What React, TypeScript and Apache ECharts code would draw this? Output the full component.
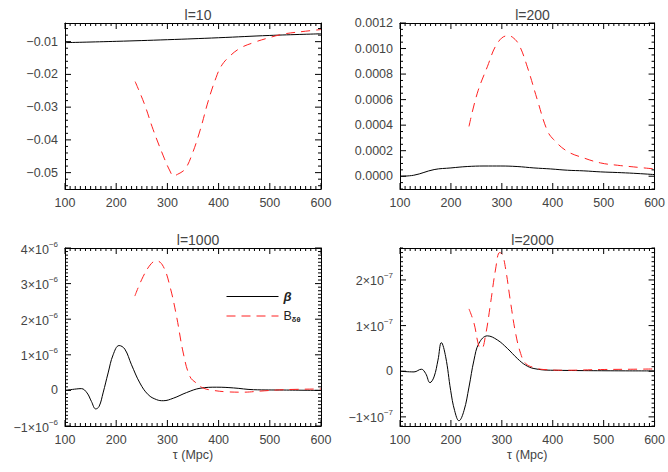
import React, { useEffect, useRef } from 'react';
import * as echarts from 'echarts';

// ---------- data ----------
const tauTicks = [100, 200, 300, 400, 500, 600];
const panelTitles = ['l=10', 'l=200', 'l=1000', 'l=2000'];
const seriesNames = ['β', 'Bδθ'];

// l = 10
const beta10Tau = [100, 200, 300, 400, 500, 600];
const beta10 = [-0.0103, -0.0099, -0.0094, -0.0088, -0.0081, -0.0076];
const bdt10Tau = [237, 255, 272, 292, 305, 312, 320, 334, 347, 364, 380, 395, 405, 420, 442, 468, 494, 526, 559, 600];
const bdt10 = [-0.0222, -0.029, -0.0368, -0.0449, -0.0495, -0.051, -0.0505, -0.049, -0.0449, -0.037, -0.028, -0.021, -0.0175, -0.0147, -0.012, -0.0103, -0.009, -0.0077, -0.007, -0.0063];

// l = 200
const beta200Tau = [100, 127, 167, 200, 232, 265, 298, 330, 363, 396, 429, 461, 494, 527, 559, 600];
const beta200 = [0, 0.0000078, 0.000052, 0.000065, 0.000076, 0.00008, 0.00008, 0.000076, 0.000065, 0.000057, 0.000047, 0.000042, 0.000034, 0.000029, 0.000023, 0.000013];
const bdt200Tau = [235.5, 251.8, 271.5, 291, 310.7, 320.5, 333.6, 350, 369.6, 389, 402, 428.5, 461, 494, 527, 559, 600];
const bdt200 = [0.00039, 0.00065, 0.000857, 0.00104, 0.0011, 0.00109, 0.00103, 0.000857, 0.0006, 0.00036, 0.000286, 0.000195, 0.000143, 0.000104, 0.000086, 0.000073, 0.000057];

// l = 1000
const beta1000Tau = [100, 122, 132, 143, 151.6, 160, 166.6, 174.4, 184.2, 194, 205.7, 216.8, 229.9, 246.2, 262.5, 278.9, 291.9, 311.5, 337.6, 363.7, 396.3, 429, 468, 526.9, 600];
const beta1000 = [0, 0.04e-6, 0.05e-6, -0.07e-6, -0.31e-6, -0.52e-6, -0.45e-6, -0.07e-6, 0.49e-6, 1.0e-6, 1.26e-6, 1.16e-6, 0.72e-6, 0.21e-6, -0.12e-6, -0.26e-6, -0.29e-6, -0.22e-6, -0.06e-6, 0.06e-6, 0.09e-6, 0.07e-6, 0.02e-6, 0.01e-6, 0];
const bdt1000Tau = [236.4, 252.7, 269, 279, 292, 305, 318, 331, 344, 357, 370, 390, 416, 448.6, 481, 527, 600];
const bdt1000 = [2.65e-6, 3.2e-6, 3.57e-6, 3.64e-6, 3.48e-6, 2.92e-6, 2.07e-6, 1.05e-6, 0.39e-6, 0.2e-6, 0.065e-6, 0, -0.04e-6, -0.05e-6, -0.02e-6, 0.02e-6, 0.04e-6];

// l = 2000
const beta2000Tau = [100, 127.5, 141.9, 150.4, 158.9, 166.8, 174.6, 181.2, 189.7, 199.5, 207.3, 215.8, 225.7, 235.5, 245.3, 255.1, 271.5, 291.1, 310.7, 330.4, 346.7, 363.1, 395.8, 600];
const beta2000 = [0, -0.015e-7, 0.044e-7, -0.05e-7, -0.25e-7, -0.125e-7, 0.244e-7, 0.627e-7, 0.317e-7, -0.421e-7, -0.863e-7, -1.085e-7, -0.863e-7, -0.347e-7, 0.244e-7, 0.613e-7, 0.775e-7, 0.686e-7, 0.502e-7, 0.28e-7, 0.133e-7, 0.059e-7, 0.022e-7, 0.007e-7];
const bdt2000Tau = [235.5, 245.3, 255.1, 260.3, 268.2, 278, 287.8, 295.7, 300.9, 307.5, 317.3, 327.1, 336.9, 346.7, 363.1, 382.7, 428.5, 494, 559.4, 600];
const bdt2000 = [1.365e-7, 1.055e-7, 0.54e-7, 0.5e-7, 0.8e-7, 1.5e-7, 2.24e-7, 2.6e-7, 2.56e-7, 2.24e-7, 1.5e-7, 0.83e-7, 0.39e-7, 0.17e-7, 0.08e-7, 0.037e-7, 0.022e-7, 0.037e-7, 0.044e-7, 0.05e-7];

const yMins = [-0.055, -0.0001, -1e-6, -1.2e-7];
const yMaxs = [-0.0043, 0.0012, 4e-6, 2.7e-7];
const ySteps = [0.01, 0.0002, 1e-6, 1e-7];
const ySplits = [5, 6, 5, 4];
const yMinorSplits = [5, 4, 10, 10];
const xMinorSplit = 10;

const betaTaus = [beta10Tau, beta200Tau, beta1000Tau, beta2000Tau];
const betaVals = [beta10, beta200, beta1000, beta2000];
const bdtTaus = [bdt10Tau, bdt200Tau, bdt1000Tau, bdt2000Tau];
const bdtVals = [bdt10, bdt200, bdt1000, bdt2000];

// ---------- layout ----------
const GRIDS = [
  { left: 65, top: 23, width: 256, height: 166 },
  { left: 400, top: 23, width: 255, height: 166 },
  { left: 65, top: 248, width: 256, height: 178 },
  { left: 400, top: 248, width: 255, height: 178 },
];
const FONT = 'Liberation Sans, Helvetica, Arial, sans-serif';
const TXT = '#444';
const MAJOR_LEN = 6;
const MINOR_LEN = 3;

const zip = (a: number[], b: number[]) => a.map((x, i) => [x, b[i]]);

function yFormatter(p: number) {
  const step = ySteps[p];
  return (v: number) => {
    const k = v / step;
    if (Math.abs(k - Math.round(k)) > 1e-6) return '';
    const n = Math.round(k);
    if (p === 0) return (v < 0 ? '−' : '') + Math.abs(n * step).toFixed(2);
    if (p === 1) return (v < 0 ? '−' : '') + Math.abs(n * step).toFixed(4);
    if (n === 0) return '0';
    const exp = p === 2 ? '−6' : '−7';
    return '{m|' + (n < 0 ? '−' : '') + Math.abs(n) + '×10}{s|' + exp + '}';
  };
}

// tick positions along each axis (major + minor), as [x, y, kind, length]
function tickItems(p: number) {
  const items: number[][] = [];
  const x0 = tauTicks[0];
  const x1 = tauTicks[tauTicks.length - 1];
  const xStep = tauTicks[1] - tauTicks[0];
  const xm = xStep / xMinorSplit;
  for (let k = 0; x0 + k * xm <= x1 + 1e-9; k++) {
    const v = x0 + k * xm;
    items.push([v, yMins[p], 0, k % xMinorSplit === 0 ? MAJOR_LEN : MINOR_LEN]);
  }
  const step = ySteps[p];
  const ym = step / yMinorSplits[p];
  const kStart = Math.ceil(yMins[p] / ym - 1e-6);
  const kEnd = Math.floor(yMaxs[p] / ym + 1e-6);
  for (let k = kStart; k <= kEnd; k++) {
    const v = k * ym;
    const major = Math.abs(v / step - Math.round(v / step)) < 1e-6;
    items.push([x0, v, 1, major ? MAJOR_LEN : MINOR_LEN]);
  }
  return items;
}

export default function App() {
  const ref = useRef<HTMLDivElement>(null);
  useEffect(() => {
    if (!ref.current) return;
    const chart = echarts.init(ref.current, undefined, { renderer: 'svg' });
    const xAxes: any[] = [];
    const yAxes: any[] = [];
    const series: any[] = [];
    const titles: any[] = [];
    const axisLine = () => ({ show: true, onZero: false, lineStyle: { color: '#000', width: 1 } });
    GRIDS.forEach((g, i) => {
      titles.push({
        text: panelTitles[i],
        left: g.left + g.width / 2,
        top: g.top - 20,
        textAlign: 'center',
        textStyle: { fontFamily: FONT, fontSize: 14, fontWeight: 'normal', color: TXT },
      });
      for (const pos of ['bottom', 'top']) {
        xAxes.push({
          type: 'value', gridIndex: i, position: pos,
          min: tauTicks[0], max: tauTicks[tauTicks.length - 1], interval: 100,
          axisLine: axisLine(), axisTick: { show: false }, minorTick: { show: false },
          splitLine: { show: false },
          axisLabel: pos === 'bottom'
            ? { show: true, margin: 7, fontFamily: FONT, fontSize: 12.5, color: TXT }
            : { show: false },
          name: pos === 'bottom' && i >= 2 ? 'τ (Mpc)' : '',
          nameLocation: 'middle', nameGap: 22,
          nameTextStyle: { fontFamily: FONT, fontSize: 12.5, color: TXT },
        });
      }
      for (const pos of ['left', 'right']) {
        yAxes.push({
          type: 'value', gridIndex: i, position: pos,
          min: yMins[i], max: yMaxs[i], splitNumber: ySplits[i],
          axisLine: axisLine(), axisTick: { show: false }, minorTick: { show: false },
          splitLine: { show: false },
          axisLabel: pos === 'left' ? {
            show: true, margin: 7, fontFamily: FONT, fontSize: 12.5, color: TXT,
            formatter: yFormatter(i),
            rich: {
              m: { fontFamily: FONT, fontSize: 12.5, color: TXT, verticalAlign: 'bottom', lineHeight: 16 },
              s: { fontFamily: FONT, fontSize: 8, color: TXT, verticalAlign: 'top', lineHeight: 10 },
            },
          } : { show: false },
        });
      }
      series.push({
        name: seriesNames[0], type: 'line', xAxisIndex: 2 * i, yAxisIndex: 2 * i,
        data: zip(betaTaus[i], betaVals[i]), symbol: 'none', showSymbol: false, smooth: 0.4,
        lineStyle: { color: '#000', width: 1 }, itemStyle: { color: '#000' },
      });
      series.push({
        name: seriesNames[1], type: 'line', xAxisIndex: 2 * i, yAxisIndex: 2 * i,
        data: zip(bdtTaus[i], bdtVals[i]), symbol: 'none', showSymbol: false, smooth: 0.4,
        lineStyle: { color: '#ff2020', width: 1, type: [9, 6] }, itemStyle: { color: '#ff2020' },
      });
      // box tick marks, placed through the panel's own scales
      const xEnd = tauTicks[tauTicks.length - 1];
      series.push({
        name: 'ticks' + i, type: 'custom', xAxisIndex: 2 * i, yAxisIndex: 2 * i,
        coordinateSystem: 'cartesian2d', silent: true, z: 5, clip: false,
        data: tickItems(i),
        renderItem: (params: any, api: any) => {
          const vx = api.value(0);
          const vy = api.value(1);
          const kind = api.value(2);
          const len = api.value(3);
          const st = { stroke: '#000', lineWidth: 1 };
          if (kind === 0) {
            const b = api.coord([vx, yMins[i]]);
            const t = api.coord([vx, yMaxs[i]]);
            return {
              type: 'group',
              children: [
                { type: 'line', shape: { x1: b[0], y1: b[1], x2: b[0], y2: b[1] - len }, style: st },
                { type: 'line', shape: { x1: t[0], y1: t[1], x2: t[0], y2: t[1] + len }, style: st },
              ],
            };
          }
          const l = api.coord([tauTicks[0], vy]);
          const r = api.coord([xEnd, vy]);
          return {
            type: 'group',
            children: [
              { type: 'line', shape: { x1: l[0], y1: l[1], x2: l[0] + len, y2: l[1] }, style: st },
              { type: 'line', shape: { x1: r[0], y1: r[1], x2: r[0] - len, y2: r[1] }, style: st },
            ],
          };
        },
      });
    });
    chart.setOption({
      animation: false,
      backgroundColor: '#fff',
      title: titles,
      grid: GRIDS.map((g) => ({ ...g, containLabel: false })),
      xAxis: xAxes,
      yAxis: yAxes,
      series,
      tooltip: { show: false },
      legend: {
        data: seriesNames,
        left: 221, top: 285, orient: 'vertical',
        itemWidth: 52, itemHeight: 8, itemGap: 6,
        itemStyle: { opacity: 0 },
        lineStyle: { width: 1, inactiveWidth: 1 },
        formatter: (name: string) => (name === 'β' ? '{b|β}' : '{n|B}{s|δθ}'),
        textStyle: {
          fontFamily: FONT, color: '#222', fontSize: 12.5,
          rich: {
            b: { fontFamily: FONT, fontSize: 13, fontStyle: 'italic', fontWeight: 'bold', color: '#222' },
            n: { fontFamily: FONT, fontSize: 12.5, color: '#222', verticalAlign: 'top', lineHeight: 14 },
            s: { fontFamily: FONT, fontSize: 7.5, fontWeight: 'bold', color: '#222', verticalAlign: 'bottom', lineHeight: 14 },
          },
        },
      },
    });
    return () => chart.dispose();
  }, []);
  return <div ref={ref} style={{ position: 'absolute', left: 0, top: 0, width: 668, height: 472 }} />;
}
